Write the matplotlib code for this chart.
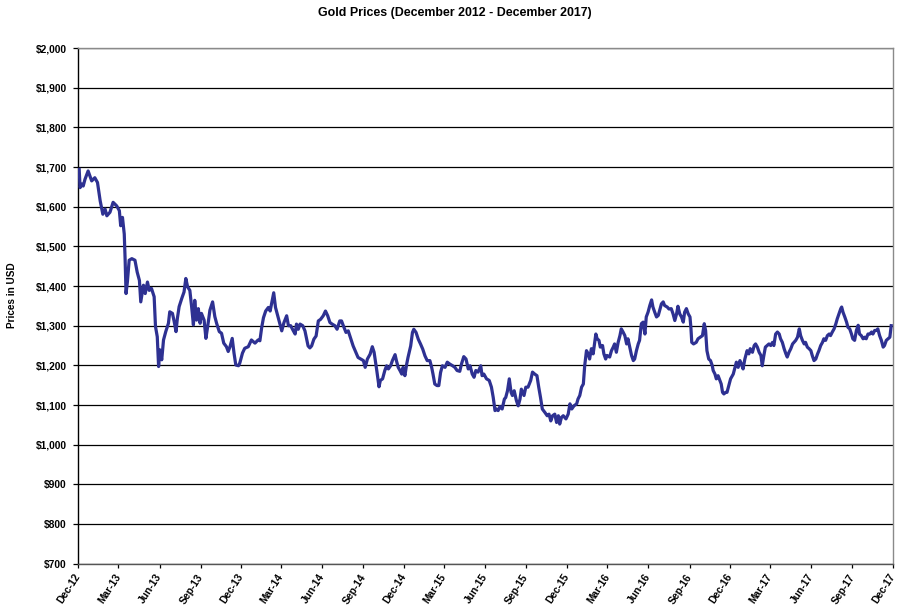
import matplotlib
matplotlib.use("Agg")
import matplotlib.pyplot as plt
from matplotlib.ticker import FuncFormatter, MultipleLocator
import pandas as pd

# ---- data ----
start_date = "2012-12-01"
end_date = "2017-12-01"
title = "Gold Prices (December 2012 - December 2017)"
y_label = "Prices in USD"

# days since 2012-12-01
days = [
    2, 4, 8, 11, 15, 22, 30, 37, 43, 49, 55, 60, 64, 71, 78, 86, 92, 95, 99, 103,
    105, 107, 110, 114, 120, 127, 132, 137, 140, 146, 150, 155, 159, 164, 170, 173, 177, 180, 183, 187,
    191, 196, 202, 205, 211, 215, 219, 222, 226, 232, 237, 241, 245, 250, 254, 258, 261, 265, 269, 273,
    276, 282, 286, 290, 295, 301, 306, 310, 316, 321, 326, 332, 336, 340, 345, 349, 353, 359, 362, 368,
    373, 381, 388, 396, 403, 407, 411, 415, 420, 426, 430, 433, 438, 442, 446, 450, 456, 461, 467, 471,
    476, 482, 486, 489, 493, 497, 503, 508, 512, 515, 519, 523, 528, 533, 538, 543, 549, 554, 559, 564,
    569, 575, 580, 586, 590, 594, 600, 605, 610, 616, 622, 627, 633, 639, 643, 648, 654, 659, 663, 669,
    674, 677, 682, 687, 691, 695, 700, 704, 710, 713, 717, 721, 725, 728, 732, 736, 739, 745, 749, 752,
    757, 762, 767, 772, 777, 782, 788, 792, 795, 799, 804, 808, 812, 816, 822, 827, 833, 839, 844, 849,
    855, 859, 864, 869, 874, 878, 883, 887, 891, 896, 902, 905, 909, 915, 921, 926, 930, 934, 937, 941,
    945, 950, 955, 958, 962, 966, 970, 973, 977, 982, 986, 990, 993, 999, 1003, 1008, 1014, 1018, 1023, 1028,
    1032, 1036, 1040, 1046, 1051, 1055, 1059, 1063, 1068, 1072, 1076, 1079, 1083, 1087, 1093, 1098, 1102, 1106, 1111, 1117,
    1120, 1124, 1128, 1132, 1135, 1139, 1143, 1146, 1150, 1154, 1158, 1160, 1163, 1167, 1170, 1175, 1178, 1182, 1185, 1191,
    1195, 1199, 1202, 1206, 1210, 1214, 1217, 1221, 1225, 1229, 1232, 1236, 1240, 1244, 1247, 1251, 1255, 1258, 1262, 1266,
    1270, 1273, 1277, 1281, 1285, 1288, 1292, 1296, 1300, 1303, 1307, 1311, 1314, 1320, 1324, 1329, 1333, 1337, 1341, 1344,
    1348, 1352, 1356, 1359, 1363, 1367, 1371, 1373, 1375, 1379, 1385, 1389, 1394, 1399, 1403, 1406, 1409, 1413, 1417, 1421,
    1423, 1427, 1430, 1434, 1438, 1441, 1444, 1447, 1451, 1454, 1458, 1462, 1468, 1471, 1475, 1479, 1483, 1486, 1490, 1494,
    1499, 1503, 1506, 1511, 1515, 1518, 1522, 1526, 1530, 1533, 1536, 1540, 1544, 1548, 1552, 1556, 1559, 1563, 1567, 1571,
    1574, 1578, 1582, 1586, 1589, 1593, 1597, 1601, 1604, 1608, 1612, 1616, 1619, 1623, 1627, 1630, 1634, 1638, 1642, 1645,
    1649, 1653, 1657, 1660, 1664, 1668, 1671, 1675, 1679, 1683, 1686, 1690, 1694, 1698, 1701, 1705, 1709, 1711, 1714, 1718,
    1722, 1725, 1729, 1733, 1736, 1740, 1744, 1748, 1751, 1755, 1759, 1763, 1766, 1770, 1774, 1778, 1781, 1785, 1789, 1792,
    1796, 1800, 1804, 1807, 1811, 1815, 1819, 1822,
]

prices = [
    1694, 1648, 1657, 1652, 1669, 1690, 1665, 1673, 1661, 1615, 1581, 1594, 1577, 1586, 1611, 1602, 1590, 1552, 1573, 1531,
    1465, 1381, 1410, 1465, 1469, 1465, 1435, 1414, 1360, 1402, 1381, 1410, 1389, 1394, 1373, 1298, 1272, 1197, 1239, 1214,
    1264, 1285, 1306, 1335, 1331, 1310, 1285, 1318, 1348, 1369, 1385, 1419, 1398, 1389, 1348, 1302, 1364, 1314, 1343, 1306,
    1331, 1314, 1268, 1298, 1339, 1360, 1323, 1306, 1285, 1281, 1256, 1247, 1235, 1247, 1268, 1231, 1201, 1199, 1206, 1231,
    1243, 1247, 1264, 1256, 1264, 1262, 1295, 1320, 1337, 1346, 1337, 1354, 1383, 1346, 1329, 1312, 1287, 1308, 1325, 1300,
    1300, 1287, 1279, 1304, 1291, 1304, 1300, 1287, 1266, 1249, 1244, 1249, 1266, 1274, 1312, 1316, 1325, 1337, 1325, 1308,
    1304, 1300, 1291, 1312, 1312, 1300, 1283, 1287, 1270, 1249, 1233, 1220, 1216, 1212, 1195, 1216, 1228, 1247, 1233, 1187,
    1146, 1162, 1166, 1187, 1199, 1191, 1199, 1212, 1227, 1212, 1195, 1187, 1178, 1195, 1174, 1203, 1220, 1249, 1283, 1291,
    1283, 1266, 1254, 1241, 1224, 1212, 1212, 1195, 1178, 1153, 1149, 1149, 1182, 1199, 1195, 1208, 1203, 1199, 1195, 1187,
    1185, 1204, 1222, 1216, 1191, 1199, 1178, 1170, 1187, 1183, 1199, 1174, 1178, 1166, 1162, 1145, 1119, 1086, 1090, 1086,
    1096, 1090, 1115, 1119, 1136, 1166, 1132, 1124, 1136, 1111, 1098, 1115, 1140, 1124, 1145, 1145, 1162, 1183, 1178, 1174,
    1145, 1119, 1090, 1081, 1073, 1077, 1060, 1073, 1077, 1056, 1073, 1052, 1069, 1073, 1065, 1077, 1103, 1090, 1098, 1103,
    1115, 1124, 1145, 1153, 1199, 1237, 1229, 1216, 1242, 1229, 1263, 1279, 1267, 1263, 1246, 1250, 1229, 1216, 1225, 1221,
    1237, 1246, 1254, 1233, 1258, 1275, 1292, 1284, 1275, 1254, 1267, 1246, 1225, 1212, 1216, 1237, 1254, 1263, 1305, 1309,
    1279, 1322, 1334, 1351, 1365, 1347, 1334, 1322, 1326, 1338, 1355, 1360, 1351, 1347, 1342, 1343, 1330, 1313, 1330, 1349,
    1330, 1322, 1309, 1334, 1343, 1330, 1322, 1296, 1258, 1254, 1258, 1267, 1271, 1275, 1305, 1288, 1237, 1216, 1212, 1199,
    1187, 1178, 1166, 1174, 1162, 1153, 1132, 1128, 1132, 1132, 1149, 1166, 1178, 1191, 1208, 1195, 1212, 1204, 1191, 1216,
    1237, 1229, 1242, 1233, 1250, 1254, 1246, 1233, 1225, 1199, 1221, 1246, 1250, 1254, 1250, 1258, 1250, 1279, 1284, 1279,
    1267, 1258, 1242, 1229, 1221, 1233, 1242, 1254, 1258, 1263, 1271, 1292, 1275, 1263, 1254, 1258, 1246, 1242, 1237, 1225,
    1212, 1216, 1229, 1237, 1250, 1258, 1267, 1263, 1275, 1279, 1275, 1284, 1292, 1305, 1317, 1330, 1343, 1347, 1334, 1322,
    1309, 1296, 1292, 1279, 1267, 1263, 1288, 1301, 1279, 1275, 1267, 1271, 1267, 1279, 1279, 1284, 1279, 1288, 1288, 1292,
    1275, 1263, 1246, 1250, 1263, 1267, 1271, 1300,
]

# ---- style ----
plt.rcParams["font.family"] = ["Liberation Sans", "DejaVu Sans"]
plt.rcParams["font.weight"] = "bold"

line_color = "#2E3192"
frame_gray = "#8a8a8a"

fig = plt.figure(figsize=(9.0, 6.1), dpi=100)
ax = fig.add_axes([0.087, 0.0759, 0.9052, 0.8454])

dates = pd.Timestamp(start_date) + pd.to_timedelta(days, unit="D")
ax.plot(dates, prices, color=line_color, lw=2.3, solid_joinstyle="round", zorder=3)

ax.set_xlim(pd.Timestamp(start_date), pd.Timestamp(end_date))
ax.set_ylim(700, 2000)

ax.yaxis.set_major_locator(MultipleLocator(100))
ax.yaxis.set_major_formatter(FuncFormatter(lambda v, p: f"${v:,.0f}"))
ax.grid(axis="y", color="black", lw=0.9, zorder=1)
ax.set_axisbelow(True)

tick_dates = pd.date_range(start_date, end_date, freq="3MS")
ax.set_xticks(tick_dates)
ax.set_xticklabels([d.strftime("%b-%y") for d in tick_dates],
                   rotation=57, ha="right", va="center", rotation_mode="anchor",
                   fontsize=7.4, fontweight="bold")
for lbl in ax.get_yticklabels():
    lbl.set_fontsize(7.4)
    lbl.set_fontweight("bold")

ax.tick_params(axis="x", length=3, width=0.9, direction="out", pad=5, colors="black")
ax.tick_params(axis="y", length=3.5, width=0.9, direction="out", pad=5, colors="black", labelsize=7.4)

ax.spines["left"].set_color("black")
ax.spines["left"].set_linewidth(1.0)
for s in ("top", "right", "bottom"):
    ax.spines[s].set_color(frame_gray)
    ax.spines[s].set_linewidth(1.0)
ax.spines["bottom"].set_color("#555555")

ax.set_ylabel(y_label, fontsize=7.2, fontweight="bold", va="center")
ax.yaxis.set_label_coords(-0.081, 0.521)
fig.text(0.505, 0.979, title, ha="center", va="center", fontsize=8.9, fontweight="bold")

fig.savefig("out.png", dpi=100, facecolor="white")
